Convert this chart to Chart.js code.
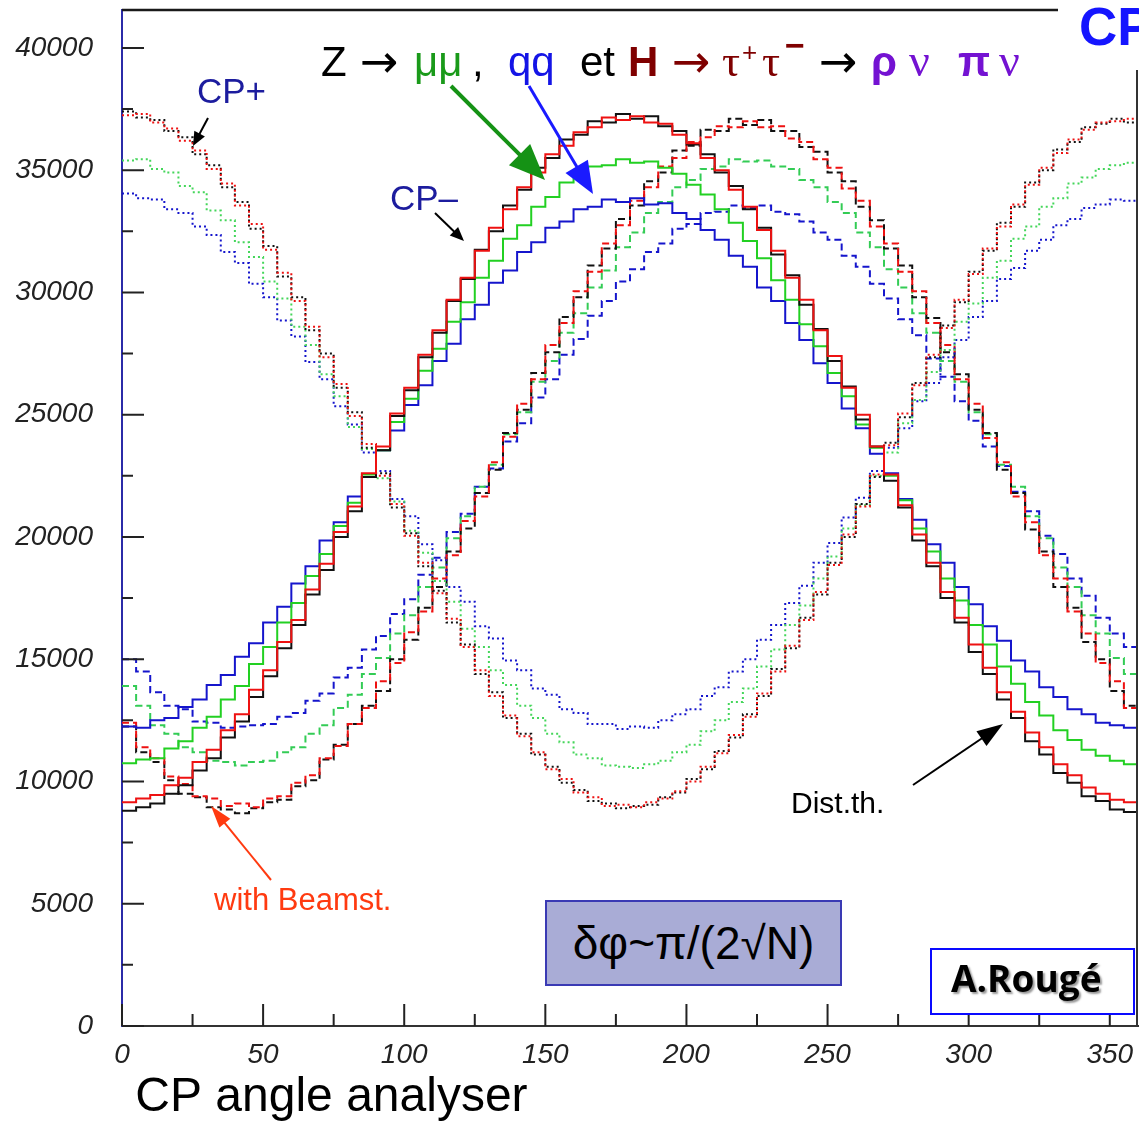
<!DOCTYPE html>
<html>
<head>
<meta charset="utf-8">
<title>CP angle analyser</title>
<script src="https://cdn.jsdelivr.net/npm/chart.js@4.4.1/dist/chart.umd.min.js"></script>
<style>
  html, body { margin: 0; padding: 0; background: #fff; overflow: hidden; }
  #wrap { position: relative; width: 1139px; height: 1127px; overflow: hidden; }
  #chart { position: absolute; left: 0; top: 0; }
  #arrows { position: absolute; left: 0; top: 0; pointer-events: none; }
  .t { position: absolute; white-space: nowrap; line-height: 1; font-family: "Liberation Sans", Arial, sans-serif; }
  .serif { font-family: "Liberation Serif", "Times New Roman", serif; }
  .arr { font-family: "DejaVu Sans", sans-serif; font-size: 46px; top: 38px; }
  .f42 { font-size: 42px; }
  .cp { font-size: 35px; color: #1c1c9e; }
  .purple { color: #7412d2; }
  .dred { color: #7f0000; }
  #sigma { position: absolute; left: 545px; top: 900px; width: 297px; height: 86px; box-sizing: border-box;
           background: #a9acd6; border: 2px solid #3a3ab4; text-align: center; line-height: 82px;
           font-family: "Liberation Sans", Arial, sans-serif; font-size: 46px; color: #000; }
  #author { position: absolute; left: 930px; top: 948px; width: 205px; height: 67px; box-sizing: border-box;
            background: #fff; border: 2.5px solid #0a0aff; }
</style>
</head>
<body>
<div id="wrap">
  <canvas id="chart" width="1139" height="1127"></canvas>
  <svg id="arrows" width="1139" height="1127"></svg>

  <!-- process line -->
  <div class="t f42" style="left:321px;top:41px">Z</div>
  <div class="t arr" style="left:360px">→</div>
  <div class="t f42" style="left:414px;top:41px;color:#1a9a1a">μμ</div>
  <div class="t f42" style="left:472px;top:41px">,</div>
  <div class="t f42" style="left:508px;top:41px;color:#1414e6">qq</div>
  <div class="t f42" style="left:580px;top:41px">et</div>
  <div class="t f42 dred" style="left:628px;top:41px;font-weight:bold">H</div>
  <div class="t arr dred" style="left:672px">→</div>
  <div class="t dred serif" style="left:722px;top:39px;font-size:45px">τ</div>
  <div class="t dred" style="left:742px;top:39px;font-size:26px">+</div>
  <div class="t dred serif" style="left:762px;top:39px;font-size:45px">τ</div>
  <div class="t dred" style="left:785px;top:28px;font-size:34px;font-weight:bold">−</div>
  <div class="t arr" style="left:819px">→</div>
  <div class="t f42 purple" style="left:871px;top:41px;font-weight:bold">ρ</div>
  <div class="t purple serif" style="left:909px;top:38px;font-size:46px">ν</div>
  <div class="t f42 purple" style="left:958px;top:41px;font-weight:bold">π</div>
  <div class="t purple serif" style="left:999px;top:38px;font-size:46px">ν</div>

  <div class="t" style="left:1079px;top:0px;font-size:53px;font-weight:bold;color:#1515ff">CP</div>

  <div class="t cp" style="left:197px;top:73px">CP+</div>
  <div class="t cp" style="left:390px;top:180px">CP–</div>
  <div class="t" style="left:214px;top:884px;font-size:31px;color:#ff3a10">with Beamst.</div>
  <div class="t" style="left:791px;top:788px;font-size:30px;color:#000">Dist.th.</div>

  <div id="sigma">δφ~π/(2√N)</div>
  <div id="author"></div>
  <div class="t" style="left:951px;top:959px;font-family:'Open Sans',sans-serif;font-weight:700;font-size:37px;color:#000;text-shadow:2px 2px 2px #999">A.Rougé</div>
</div>

<script>
// histogram bins: 72 bins of 5 degrees, 0..360
const BIN_WIDTH = 5;

const xTickValues = [0, 50, 100, 150, 200, 250, 300, 350];
const xTickLabels = ["0", "50", "100", "150", "200", "250", "300", "350"];
const xMinorTicks = [25, 75, 125, 175, 225, 275, 325];
const yTickValues = [0, 5000, 10000, 15000, 20000, 25000, 30000, 35000, 40000];
const yTickLabels = ["0", "5000", "10000", "15000", "20000", "25000", "30000", "35000", "40000"];
const yMinorTicks = [2500, 7500, 12500, 17500, 22500, 27500, 32500, 37500];

// CP- (solid)
const cpMinusBlack = [
  8800, 8950, 9100, 9500, 9850, 10450, 10950, 11800, 12450, 13450, 14300, 15450, 16400, 17650, 18650, 20000, 21050, 22450,
  23550, 24950, 26000, 27350, 28350, 29650, 30550, 31750, 32500, 33550, 34200, 35100, 35500, 36250, 36450, 37000, 36950, 37300,
  37100, 37200, 36800, 36600, 36050, 35650, 34900, 34350, 33400, 32650, 31550, 30700, 29500, 28500, 27200, 26150, 24800, 23700,
  22300, 21200, 19850, 18800, 17500, 16500, 15300, 14400, 13350, 12600, 11650, 11100, 10350, 9950, 9400, 9200, 8850, 8750
];
const cpMinusRed = [
  9150, 9300, 9450, 9850, 10150, 10800, 11300, 12100, 12750, 13750, 14550, 15700, 16600, 17850, 18900, 20200, 21250, 22600,
  23700, 25050, 26100, 27450, 28450, 29700, 30600, 31700, 32650, 33400, 34300, 34900, 35650, 36000, 36550, 36750, 37150, 37050,
  37200, 36950, 36900, 36450, 36100, 35500, 35000, 34200, 33500, 32550, 31700, 30600, 29700, 28450, 27400, 26100, 25000, 23700,
  22550, 21300, 20100, 18950, 17750, 16700, 15600, 14650, 13650, 12850, 12000, 11400, 10700, 10250, 9750, 9500, 9250, 9150
];
const cpMinusGreen = [
  10750, 10900, 10950, 11350, 11650, 12200, 12650, 13350, 13900, 14800, 15500, 16500, 17300, 18400, 19300, 20450, 21400, 22550,
  23550, 24700, 25650, 26800, 27700, 28800, 29600, 30600, 31300, 32200, 32750, 33500, 33900, 34500, 34700, 35150, 35200, 35450,
  35300, 35350, 35100, 34850, 34400, 34000, 33400, 32850, 32100, 31400, 30500, 29700, 28700, 27800, 26700, 25750, 24600, 23650,
  22500, 21500, 20350, 19400, 18300, 17400, 16400, 15600, 14700, 14000, 13250, 12700, 12100, 11700, 11300, 11050, 10850, 10700
];
const cpMinusBlue = [
  12250, 12200, 12500, 12600, 13050, 13350, 13950, 14350, 15100, 15650, 16500, 17150, 18100, 18800, 19850, 20600, 21650, 22450,
  23550, 24350, 25400, 26200, 27200, 27900, 28900, 29500, 30400, 30900, 31650, 32050, 32650, 32900, 33400, 33500, 33800, 33700,
  33850, 33600, 33650, 33250, 33000, 32550, 32150, 31500, 31050, 30200, 29650, 28750, 28050, 27100, 26300, 25250, 24450, 23400,
  22600, 21550, 20700, 19700, 18950, 17950, 17250, 16350, 15750, 14950, 14500, 13850, 13450, 12950, 12750, 12400, 12300, 12200
];

// CP+ (dotted)
const cpPlusBlack = [
  37400, 37150, 37050, 36600, 36350, 35650, 35200, 34300, 33700, 32600, 31900, 30650, 29800, 28450, 27500, 26100, 25100, 23650,
  22600, 21200, 20150, 18800, 17800, 16500, 15600, 14400, 13650, 12600, 11950, 11100, 10600, 9950, 9650, 9200, 9100, 8900,
  9000, 9050, 9350, 9550, 10100, 10500, 11250, 11800, 12750, 13500, 14600, 15450, 16700, 17650, 18950, 20000, 21350, 22450,
  23850, 24900, 26300, 27350, 28650, 29600, 30850, 31700, 32850, 33500, 34500, 35000, 35850, 36150, 36750, 36900, 37100, 36950
];
const cpPlusRed = [
  37250, 37300, 36950, 36700, 36200, 35800, 35050, 34450, 33550, 32800, 31750, 30800, 29650, 28600, 27350, 26250, 24950, 23800,
  22500, 21350, 20050, 18950, 17700, 16650, 15500, 14550, 13500, 12700, 11850, 11200, 10500, 10100, 9550, 9350, 9000, 9050,
  8950, 9150, 9300, 9600, 10000, 10600, 11150, 11900, 12650, 13600, 14500, 15550, 16600, 17750, 18850, 20100, 21250, 22550,
  23750, 25050, 26200, 27450, 28550, 29700, 30750, 31800, 32700, 33600, 34400, 35100, 35700, 36250, 36650, 36950, 37000, 37100
];
const cpPlusGreen = [
  35400, 35450, 35050, 34900, 34350, 34100, 33350, 32950, 32050, 31450, 30450, 29750, 28600, 27850, 26650, 25750, 24500, 23600,
  22400, 21450, 20250, 19350, 18200, 17350, 16250, 15500, 14550, 13950, 13100, 12600, 11950, 11600, 11100, 10950, 10650, 10600,
  10550, 10700, 10850, 11200, 11500, 12050, 12500, 13250, 13800, 14700, 15400, 16400, 17200, 18300, 19200, 20350, 21300, 22500,
  23450, 24650, 25600, 26750, 27650, 28800, 29550, 30600, 31300, 32200, 32700, 33500, 33850, 34450, 34700, 35050, 35200, 35300
];
const cpPlusBlue = [
  34050, 33850, 33800, 33400, 33250, 32700, 32350, 31650, 31200, 30350, 29800, 28850, 28200, 27150, 26450, 25350, 24600, 23450,
  22700, 21550, 20850, 19700, 19050, 17950, 17350, 16350, 15850, 14950, 14550, 13800, 13550, 12950, 12800, 12350, 12350, 12150,
  12250, 12200, 12500, 12750, 12950, 13500, 13850, 14500, 15000, 15800, 16400, 17300, 18000, 18950, 19750, 20800, 21600, 22700,
  23650, 24450, 25550, 26300, 27350, 28050, 29000, 29650, 30550, 31000, 31700, 32150, 32750, 33000, 33450, 33600, 33800, 33750
];

// with beamstrahlung (dashed)
const beamBlack = [
  12250, 11200, 10800, 10050, 9500, 9350, 8950, 8850, 8700, 8900, 9150, 9250, 9800, 10050, 10900, 11500, 12350, 13100,
  13700, 15000, 15800, 17100, 17950, 19400, 20350, 21800, 22750, 24250, 25200, 26700, 27550, 29000, 29800, 31100, 31800, 33000,
  33550, 34550, 34900, 35800, 36000, 36650, 36600, 37100, 36850, 37050, 36600, 36600, 35950, 35750, 34900, 34550, 33500, 32950,
  31800, 31100, 29800, 28950, 27550, 26650, 25200, 24250, 22750, 21800, 20300, 19400, 17950, 17100, 15700, 15000, 13700, 13100
];
const beamRed = [
  12400, 11400, 10950, 10200, 9900, 9400, 9300, 9000, 9100, 8950, 9300, 9400, 9950, 10250, 10950, 11450, 12350, 13000,
  14100, 14850, 16100, 16950, 18300, 19250, 20650, 21650, 23050, 24100, 25450, 26450, 27850, 28750, 30050, 30850, 32000, 32750,
  33750, 34300, 35150, 35500, 36150, 36350, 36800, 36750, 37000, 36750, 36800, 36300, 36150, 35450, 35100, 34250, 33750, 32700,
  32000, 30850, 30050, 28750, 27850, 26450, 25450, 24050, 23050, 21650, 20600, 19250, 18300, 16950, 16050, 14850, 14100, 13000
];
const beamGreen = [
  13900, 13100, 12300, 11950, 11400, 11200, 10850, 10800, 10650, 10800, 10850, 11200, 11400, 11950, 12300, 13000, 13550, 14400,
  15050, 16050, 16800, 17950, 18750, 19950, 20850, 22050, 22950, 24200, 25100, 26350, 27200, 28350, 29150, 30200, 30900, 31850,
  32450, 33250, 33700, 34300, 34600, 35050, 35150, 35450, 35350, 35400, 35150, 35050, 34600, 34300, 33700, 33250, 32450, 31850,
  30950, 30200, 29150, 28350, 27200, 26350, 25100, 24200, 22950, 22050, 20850, 19950, 18750, 17950, 16800, 16050, 15050, 14400
];
const beamBlue = [
  15000, 14500, 13650, 13100, 12950, 12450, 12400, 12200, 12250, 12300, 12350, 12650, 12800, 13300, 13600, 14250, 14650, 15400,
  15950, 16850, 17450, 18450, 19150, 20200, 20950, 22050, 22800, 23900, 24650, 25700, 26450, 27450, 28100, 29050, 29650, 30450,
  30950, 31650, 32000, 32600, 32800, 33250, 33300, 33550, 33450, 33550, 33300, 33200, 32900, 32450, 32150, 31500, 31050, 30350,
  29750, 28900, 28250, 27300, 26550, 25550, 24750, 23700, 22900, 21850, 21050, 20050, 19300, 18300, 17600, 16700, 16050, 15500
];

const BLACK = "#111111", RED = "#ee1111", GREEN = "#22d022", BLUE = "#1515cc";
const DOT = [2, 3], DASH = [7, 4];

function hist(label, vals, color, dash) {
  const pts = vals.map((v, i) => ({ x: i * BIN_WIDTH, y: v }));
  pts.push({ x: vals.length * BIN_WIDTH, y: vals[vals.length - 1] });
  return {
    label, data: pts, borderColor: color, borderWidth: 2, borderDash: dash || [],
    stepped: true, pointRadius: 0, fill: false,
  };
}

// inward tick marks and the top / right frame
const frameTicks = {
  id: "frameTicks",
  afterDraw(chart) {
    const { ctx, chartArea: a, scales: { x, y } } = chart;
    ctx.save();
    ctx.strokeStyle = "#222";
    ctx.lineWidth = 2;
    ctx.beginPath();
    xTickValues.forEach(v => { const p = x.getPixelForValue(v); ctx.moveTo(p, a.bottom); ctx.lineTo(p, a.bottom - 22); });
    xMinorTicks.forEach(v => { const p = x.getPixelForValue(v); ctx.moveTo(p, a.bottom); ctx.lineTo(p, a.bottom - 12); });
    yTickValues.forEach(v => { const p = y.getPixelForValue(v); ctx.moveTo(a.left, p); ctx.lineTo(a.left + 22, p); });
    yMinorTicks.forEach(v => { const p = y.getPixelForValue(v); ctx.moveTo(a.left, p); ctx.lineTo(a.left + 11, p); });
    ctx.stroke();
    ctx.strokeStyle = "#1a1a1a";
    ctx.lineWidth = 2.5;
    ctx.beginPath();
    ctx.moveTo(a.left, a.top);
    ctx.lineTo(1058, a.top);
    ctx.stroke();
    ctx.strokeStyle = "#333";
    ctx.lineWidth = 2;
    ctx.beginPath();
    ctx.moveTo(a.right - 1, 70);
    ctx.lineTo(a.right - 1, a.bottom);
    ctx.stroke();
    ctx.restore();
  }
};

const tickFont = { family: "'Liberation Sans', Arial, sans-serif", size: 28, style: "italic" };

new Chart(document.getElementById("chart"), {
  type: "line",
  data: {
    datasets: [
      hist("CP- red", cpMinusRed, RED),
      hist("CP- black", cpMinusBlack, BLACK),
      hist("CP- green", cpMinusGreen, GREEN),
      hist("CP- blue", cpMinusBlue, BLUE),
      hist("CP+ red", cpPlusRed, RED, DOT),
      hist("CP+ black", cpPlusBlack, BLACK, DOT),
      hist("CP+ green", cpPlusGreen, "#44d65a", DOT),
      hist("CP+ blue", cpPlusBlue, BLUE, DOT),
      hist("Beamst. red", beamRed, RED, DASH),
      hist("Beamst. black", beamBlack, BLACK, DASH),
      hist("Beamst. green", beamGreen, "#33cc55", DASH),
      hist("Beamst. blue", beamBlue, BLUE, DASH),
    ],
  },
  options: {
    responsive: false,
    devicePixelRatio: 1,
    animation: false,
    events: [],
    layout: { padding: { top: 10, right: 1, left: 0, bottom: 0 } },
    plugins: { legend: { display: false }, tooltip: { enabled: false } },
    scales: {
      x: {
        type: "linear", min: 0, max: 360,
        afterBuildTicks: s => { s.ticks = xTickValues.map(v => ({ value: v })); },
        afterFit: s => { s.height = 101; s.paddingLeft = 0; s.paddingRight = 0; },
        grid: { display: false, drawTicks: false },
        border: { display: true, color: "#333", width: 2 },
        ticks: { padding: 12, maxRotation: 0, autoSkip: false, color: "#222", font: tickFont,
                 callback: (v, i) => xTickLabels[i] },
        title: { display: true, text: " CP angle analyser", align: "start", color: "#000",
                 font: { family: "'Liberation Sans', Arial, sans-serif", size: 48, lineHeight: 1.2 },
                 padding: { top: 0, bottom: 0 } },
      },
      y: {
        type: "linear", min: 0, max: 41550,
        afterBuildTicks: s => { s.ticks = yTickValues.map(v => ({ value: v })); },
        afterFit: s => { s.width = 122; s.paddingTop = 0; s.paddingBottom = 0; },
        grid: { display: false, drawTicks: false },
        border: { display: true, color: "#2b2ba8", width: 2 },
        ticks: { padding: 29, color: "#222", font: tickFont, callback: (v, i) => yTickLabels[i] },
      },
    },
  },
  plugins: [frameTicks],
});

// annotation arrows
function arrow(x1, y1, x2, y2, color, width, headLen, headW) {
  const svg = document.getElementById("arrows");
  const ns = "http://www.w3.org/2000/svg";
  const dx = x2 - x1, dy = y2 - y1, len = Math.hypot(dx, dy);
  const ux = dx / len, uy = dy / len;
  const bx = x2 - ux * headLen, by = y2 - uy * headLen;
  const line = document.createElementNS(ns, "line");
  line.setAttribute("x1", x1); line.setAttribute("y1", y1);
  line.setAttribute("x2", bx + ux * 2); line.setAttribute("y2", by + uy * 2);
  line.setAttribute("stroke", color); line.setAttribute("stroke-width", width);
  svg.appendChild(line);
  const head = document.createElementNS(ns, "polygon");
  const px = -uy * headW / 2, py = ux * headW / 2;
  head.setAttribute("points", `${x2},${y2} ${bx + px},${by + py} ${bx - px},${by - py}`);
  head.setAttribute("fill", color);
  svg.appendChild(head);
}

arrow(208, 118, 193, 146, "#000", 2, 14, 12);
arrow(435, 213, 464, 241, "#000", 2, 14, 12);
arrow(451, 86, 545, 180, "#159215", 4, 36, 30);
arrow(529, 86, 593, 194, "#1a1aff", 3, 32, 26);
arrow(271, 880, 211, 806, "#ff3a10", 2, 22, 14);
arrow(913, 785, 1003, 724, "#000", 2, 26, 18);
</script>
</body>
</html>
